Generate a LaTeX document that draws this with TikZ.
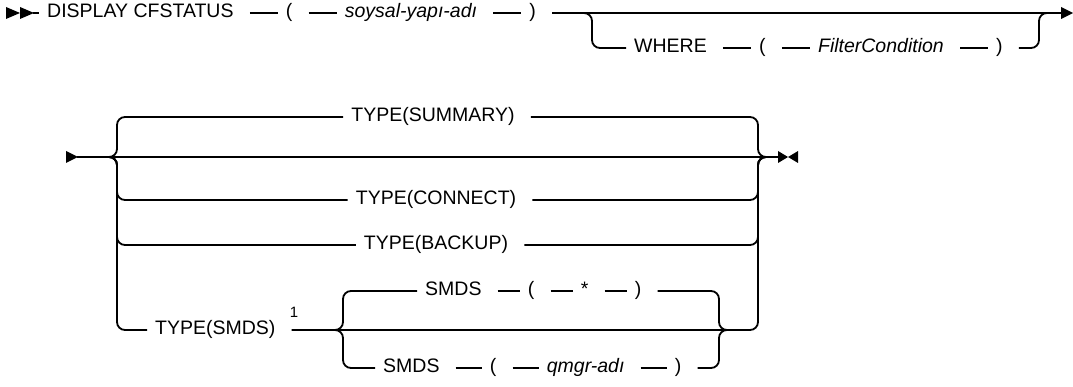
\documentclass[tikz,border=0pt]{standalone}
\usepackage{fontspec}
\setmainfont{Liberation Sans}
\usetikzlibrary{positioning}

\begin{document}
\begin{tikzpicture}[
    x=1pt, y=-1pt,
    font=\fontsize{19.5}{23}\selectfont,
    node distance=0pt and 28pt,
    tok/.style={inner xsep=8pt, inner ysep=0pt, text height=13pt, text depth=4.5pt,
                execute at end node={\hspace{8pt}}},
    var/.style={tok, font=\fontsize{19.5}{23}\selectfont\itshape},
    note/.style={inner sep=0pt, font=\fontsize{15}{18}\selectfont},
    rail/.style={line width=1.8pt},
    br/.style={rail, rounded corners=8pt}
]
\useasboundingbox (0,0) rectangle (1073,387);

% first line
\fill (6,7) -- (20,13) -- (6,19) -- cycle;
\fill (20,7) -- (34,13) -- (20,19) -- cycle;
\coordinate (s1) at (33,13);
\node[tok, anchor=west] (disp) at (39,13) {DISPLAY CFSTATUS};
\node[tok, right=of disp] (lp1) {(};
\node[var, right=of lp1]  (obj) {soysal-yapı-adı};
\node[tok, right=of obj]  (rp1) {)};
\coordinate (j1) at (584,13);
\coordinate (j2) at (1047,13);
\coordinate (e1) at (1063,13);
\foreach \a/\b in {s1/disp, disp/lp1, lp1/obj, obj/rp1, rp1/e1}
   \draw[rail] (\a) -- (\b);
\fill (1061,7) -- (1073,13) -- (1061,19) -- cycle;

\node[tok, anchor=west] (where) at (626,48) {WHERE};
\node[tok, right=of where] (lp2)  {(};
\node[var, right=of lp2]   (cond) {FilterCondition};
\node[tok, right=of cond]  (rp2)  {)};
\foreach \a/\b in {where/lp2, lp2/cond, cond/rp2}
   \draw[rail] (\a) -- (\b);
\draw[br] (j1) -- (592,13) -- (592,48) -- (where);
\draw[br] (rp2) -- (1039,48) -- (1039,13) -- (j2);

% second line
\fill (66,151) -- (78,157) -- (66,163) -- cycle;
\coordinate (s2) at (77,157);
\coordinate (e2) at (779,157);
\draw[rail] (s2) -- (e2);
\fill (778,151) -- (788,157) -- (778,163) -- cycle;
\fill (798,151) -- (788,157) -- (798,163) -- cycle;
\coordinate (jl) at (109,157);
\coordinate (jr) at (766,157);

\node[tok] (sum) at (437,117) {TYPE(SUMMARY)};
\node[tok] (con) at (440,200) {TYPE(CONNECT)};
\node[tok] (bak) at (440,245) {TYPE(BACKUP)};
\node[tok, anchor=west] (tsm) at (147,330) {TYPE(SMDS)};
\node[note, above right=3pt and -2pt of tsm.north east] (fn1) {1};
\foreach \n/\y in {sum/117, con/200, bak/245, tsm/330}
   \draw[br] (jl) -- (117,157) -- (117,\y) -- (\n);
\foreach \n/\y in {sum/117, con/200, bak/245}
   \draw[br] (\n) -- (758,\y) -- (758,157) -- (jr);
\draw[br] (tsm) -- (758,330) -- (758,157) -- (jr);

% SMDS choice
\coordinate (gl) at (335,330);
\coordinate (gr) at (727,330);
\node[tok, anchor=west] (sm1) at (417,291) {SMDS};
\node[tok, right=22pt of sm1]  (lp3)  {(};
\node[tok, right=22pt of lp3]  (star) {*};
\node[tok, right=22pt of star] (rp3)  {)};
\node[tok, anchor=west] (sm2) at (375,368) {SMDS};
\node[tok, right=26pt of sm2]  (lp4) {(};
\node[var, right=26pt of lp4]  (qm)  {qmgr-adı};
\node[tok, right=26pt of qm]   (rp4) {)};
\foreach \a/\b in {sm1/lp3, lp3/star, star/rp3, sm2/lp4, lp4/qm, qm/rp4}
   \draw[rail] (\a) -- (\b);
\draw[br] (gl) -- (343,330) -- (343,291) -- (sm1);
\draw[br] (gl) -- (343,330) -- (343,368) -- (sm2);
\draw[br] (rp3) -- (719,291) -- (719,330) -- (gr);
\draw[br] (rp4) -- (719,368) -- (719,330) -- (gr);
\end{tikzpicture}
\end{document}
